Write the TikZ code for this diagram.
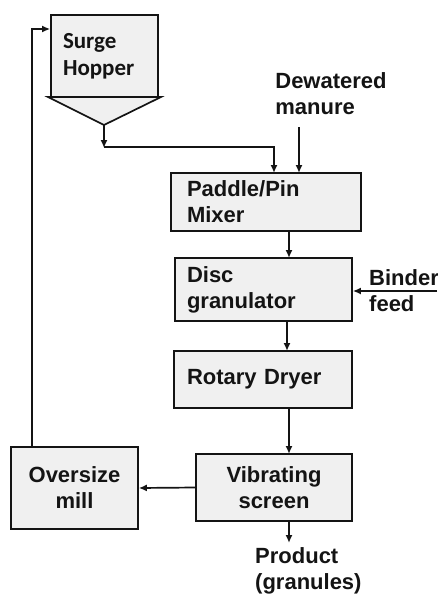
\documentclass[tikz,border=0pt]{standalone}
\usepackage{fontspec}
\setmainfont{Liberation Sans}
\newfontfamily\calibfont{Carlito}
\usetikzlibrary{arrows.meta}
\definecolor{boxgray}{RGB}{240,240,240}
\definecolor{ink}{RGB}{20,20,20}
\begin{document}
\begin{tikzpicture}[x=1pt,y=-1pt,
  lbl/.style={font=\fontsize{22}{26}\selectfont\bfseries, text=ink},
  box/.style={draw=ink, line width=1.7pt, fill=boxgray, inner sep=0pt, lbl},
  flow/.style={draw=ink, line width=1.7pt, -{Latex[length=8pt,width=7pt]}},
  plain/.style={draw=ink, line width=1.7pt}]
\useasboundingbox (0,0) rectangle (438,595);
% hopper
\node[box, minimum width=107pt, minimum height=82pt, text width=83pt, align=left,
  font=\calibfont\fontsize{23}{27}\selectfont\bfseries] (hop) at (104.5,56) {\raisebox{-3pt}{Surge}\\\raisebox{-3pt}{Hopper}};
\draw[fill=boxgray, line width=1.7pt, draw=ink] (48,97) -- (161,97) -- (104,125) -- cycle;
\coordinate (tip) at (104,125);
\coordinate (drop) at (104,148);
% process boxes
\node[box, minimum width=190pt, minimum height=58pt, text width=158pt, align=left] (mix) at (266,202) {Paddle/Pin\\Mixer};
\node[box, minimum width=177pt, minimum height=63pt, text width=153pt, align=left] (disc) at (263.5,289.5) {Disc\\granulator};
\node[box, minimum width=178pt, minimum height=57pt, text width=152pt, align=left] (dry) at (263,379.5) {Rotary Dryer};
\node[box, minimum width=156pt, minimum height=67pt, align=center] (scr) at (274,487.5) {Vibrating\\screen};
\node[box, minimum width=127pt, minimum height=82pt, align=center] (mill) at (74.5,488) {Oversize\\mill};
% labels
\node[lbl, align=left, inner sep=0pt] (dew) at (331,94) {Dewatered\\manure};
\node[lbl, align=left, inner sep=0pt, anchor=west] (bind) at (369,291) {Binder\\feed};
\node[lbl, align=left, inner sep=0pt, anchor=west] (prod) at (255,571) {Product\\(granules)};
\coordinate (dewtop) at (299,127);
\coordinate (bindend) at (437,291);
\coordinate (prodend) at (289,543);
% connectors
\draw[flow] (tip) -- (drop);
\draw[flow] ([yshift=1pt]drop) -| (274,173);
\draw[flow] (dewtop) -- (299,173);
\draw[flow] (289,231) -- (289,258);
\draw[flow] (bindend) -- (disc.east |- bindend);
\draw[flow] (287,321) -- (287,351);
\draw[flow] (289,408) -- (289,454);
\draw[flow] (scr.west) -- (mill.east);
\draw[flow] (289,521) -- (prodend);
\draw[flow] (32,447) -- (32,29) -- (hop.west |- 0,29);
\end{tikzpicture}
\end{document}
